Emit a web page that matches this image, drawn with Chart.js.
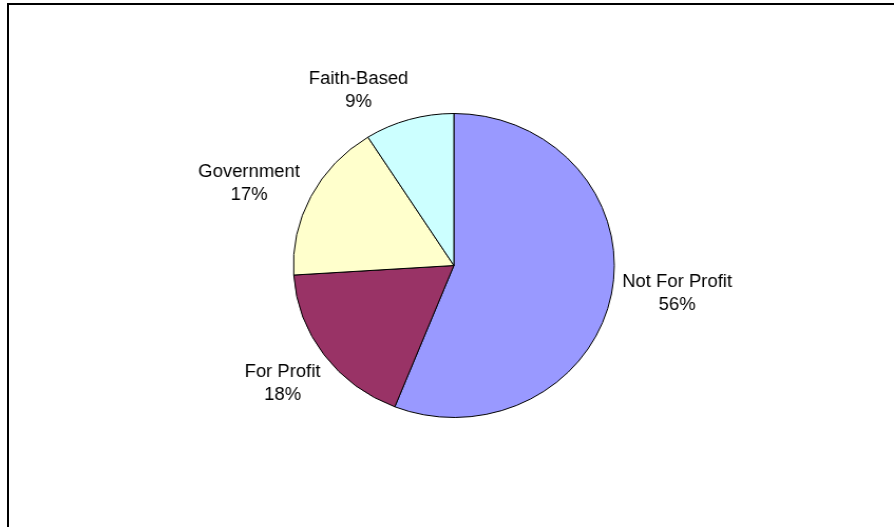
<!DOCTYPE html>
<html>
<head>
<meta charset="utf-8">
<script src="https://cdn.jsdelivr.net/npm/chart.js@4.4.0/dist/chart.umd.min.js"></script>
<style>
  body { margin: 0; background: #fff; }
  #wrap { position: relative; width: 894px; height: 527px; overflow: hidden; background: #fff; }
  #frame { position: absolute; left: 7px; top: 3px; width: 900px; height: 540px; border: 2px solid #000; box-sizing: border-box; }
  #stretch { position: absolute; left: 0; top: 0; width: 847px; height: 527px; transform: scaleX(1.0555); transform-origin: 0 0; }
</style>
</head>
<body>
<div id="wrap">
  <div id="frame"></div>
  <div id="stretch"><canvas id="myChart" width="847" height="527"></canvas></div>
</div>
<script>
var categories = ["Not For Profit", "For Profit", "Government", "Faith-Based"];
var values = [56, 18, 17, 9];
var sliceColors = ["#9999FF", "#993366", "#FFFFCC", "#CCFFFF"];

// labels outside the pie; the Excel labels were dragged a bit, so each one
// gets a small turn (degrees) off the middle of its slice
var sliceLabels = {
  id: "sliceLabels",
  afterDatasetsDraw: function (chart, args, opts) {
    var ctx = chart.ctx;
    var meta = chart.getDatasetMeta(0);
    var total = values.reduce(function (a, b) { return a + b; }, 0);
    var fontSize = 17.5;
    var lineHeight = 23;
    var capHalf = fontSize * 0.716 / 2;
    ctx.save();
    ctx.font = fontSize + "px 'Liberation Sans', Arial, sans-serif";
    ctx.fillStyle = "#000";
    ctx.textAlign = "center";
    ctx.textBaseline = "alphabetic";
    meta.data.forEach(function (arc, i) {
      var p = arc.getProps(["x", "y", "startAngle", "endAngle", "outerRadius"], true);
      var mid = (p.startAngle + p.endAngle) / 2 + (opts.turn[i] || 0) * Math.PI / 180;
      var pct = Math.round(values[i] / total * 100) + "%";
      var halfW = Math.max(ctx.measureText(categories[i]).width, ctx.measureText(pct).width) / 2;
      var halfH = 20;
      var dx = Math.cos(mid), dy = Math.sin(mid);
      // push the text box out until its edge clears the pie by the gap
      var r = p.outerRadius + opts.gap + Math.abs(dx) * halfW + Math.abs(dy) * halfH;
      var cx = p.x + dx * r;
      var cy = p.y + dy * r;
      ctx.fillText(categories[i], cx, cy - lineHeight / 2 + capHalf);
      ctx.fillText(pct, cx, cy + lineHeight / 2 + capHalf);
    });
    ctx.restore();
  }
};

var ctx = document.getElementById("myChart").getContext("2d");
var myChart = new Chart(ctx, {
  type: "pie",
  data: {
    labels: categories,
    datasets: [
      {
        data: values,
        backgroundColor: sliceColors,
        borderColor: "#000",
        borderWidth: 1,
        hoverOffset: 0
      }
    ]
  },
  options: {
    responsive: false,
    animation: false,
    devicePixelRatio: 1,
    radius: 152,
    layout: { padding: { left: 13, top: 4 } },
    events: [],
    plugins: {
      legend: { display: false },
      tooltip: { enabled: false },
      sliceLabels: { gap: 7, turn: [-3.7, 0.3, -3.8, -10.9] }
    }
  },
  plugins: [sliceLabels]
});
</script>
</body>
</html>
